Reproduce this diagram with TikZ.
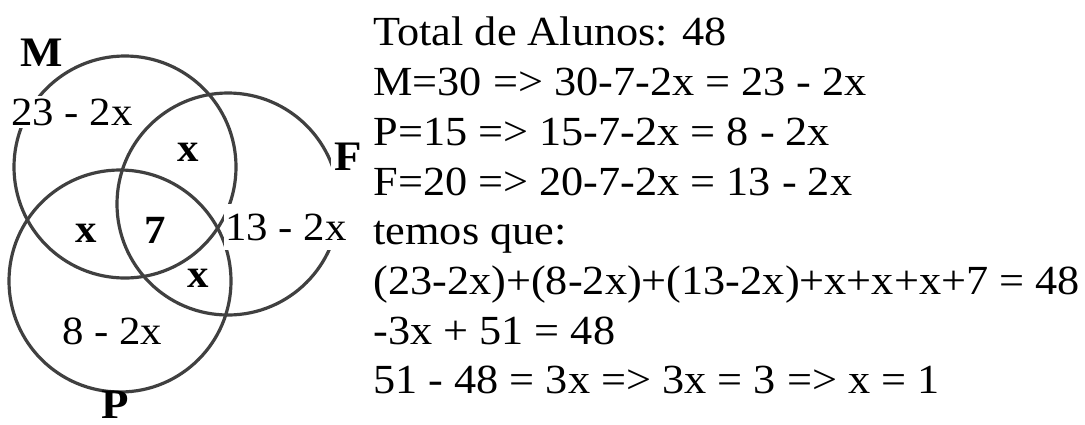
\documentclass[tikz,border=0pt]{standalone}
\usepackage{fontspec}
\setmainfont{Liberation Serif}[FakeStretch=1.07]
\begin{document}
\begin{tikzpicture}[x=0.5pt,y=-0.5pt,
  venn/.style={circle, draw=black!75, line width=1.6pt, minimum size=111pt, inner sep=0pt},
  lab/.style={fill=white, inner sep=1.5pt, font=\fontsize{20}{24}\selectfont},
  inlab/.style={inner sep=0pt, font=\fontsize{20}{24}\selectfont\bfseries},
  setlab/.style={fill=white, inner sep=1.5pt, font=\fontsize{21}{24}\selectfont\bfseries},
  txt/.style={anchor=base west, inner sep=0pt, font=\fontsize{20.7}{25}\selectfont}]
\useasboundingbox (0,0) rectangle (1085,424);
% circles
\node[venn] (cM) at (125,167) {};
\node[venn] (cF) at (228,204) {};
\node[venn] (cP) at (120,281) {};
% set labels
\node[setlab] (lM) at (42,53) {M};
\node[setlab, text depth=17pt, anchor=base] (lF) at (348,170) {F};
\node[setlab, fill=none, anchor=base] (lP) at (115,418) {P};
% region labels
\node[lab] (rM) at (72,112) {23 - 2x};
\node[lab, inner ysep=5pt, inner xsep=0.5pt] (rF) at (286,227) {13 - 2x};
\node[lab, fill=none] (rP) at (112,331) {8 - 2x};
\node[inlab] (rMF) at (188,152) {x};
\node[inlab] (rMP) at (86,233) {x};
\node[inlab] (rFP) at (198,278) {x};
\node[inlab] (rMFP) at (155,230) {7};
% explanation
\node[txt] (t1) at (373,45) {Total de Alunos: 48};
\node[txt] (t2) at (373,95) {M=30 => 30-7-2x = 23 - 2x};
\node[txt] (t3) at (373,145) {P=15 => 15-7-2x = 8 - 2x};
\node[txt] (t4) at (373,195) {F=20 => 20-7-2x = 13 - 2x};
\node[txt] (t5) at (373,244) {temos que:};
\node[txt] (t6) at (373,294) {(23-2x)+(8-2x)+(13-2x)+x+x+x+7 = 48};
\node[txt] (t7) at (373,344) {-3x + 51 = 48};
\node[txt] (t8) at (373,393) {51 - 48 = 3x => 3x = 3 => x = 1};
\end{tikzpicture}
\end{document}
